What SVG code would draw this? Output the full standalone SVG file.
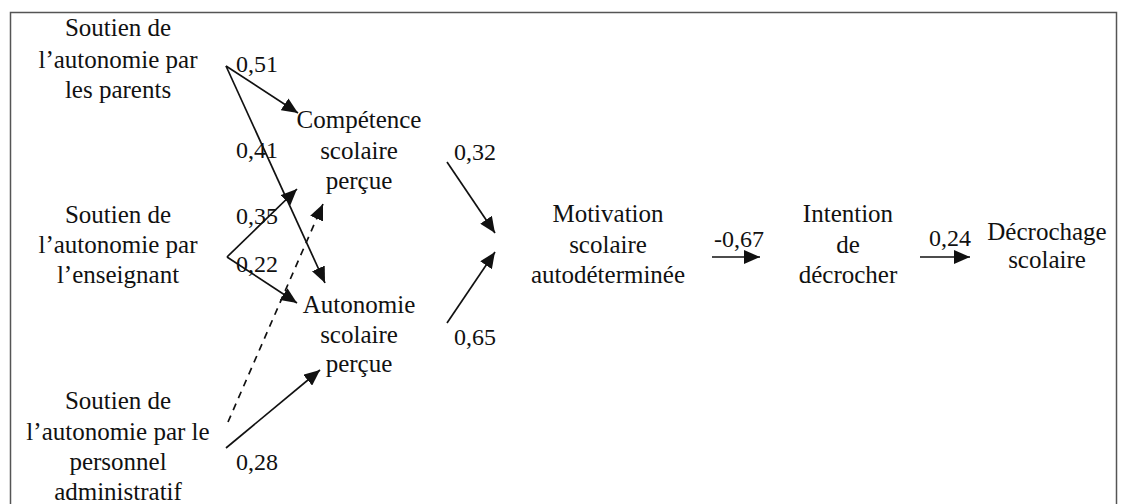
<svg xmlns="http://www.w3.org/2000/svg" width="1127" height="504" viewBox="0 0 1127 504" font-family="'Liberation Serif','DejaVu Serif',serif">
<style>
text{font-family:"Liberation Serif","DejaVu Serif",serif;font-size:25px;fill:#111;text-anchor:middle}
.lbl{font-size:24px;text-anchor:start}
.c{stroke:#111;stroke-width:1.7;fill:none;marker-end:url(#ah)}
.d{stroke-dasharray:7,6}
</style>
<defs>
<marker id="ah" markerUnits="userSpaceOnUse" markerWidth="17" markerHeight="14" refX="16" refY="7" orient="auto">
<path d="M0,0 L16,7 L0,14 z" fill="#111"/>
</marker>
</defs>
<rect x="10.5" y="12.5" width="1106" height="520" fill="#fff" stroke="#555" stroke-width="1.5"/>
<g id="parents"><text><tspan x="118" y="36">Soutien de</tspan><tspan x="118" y="68">l’autonomie par</tspan><tspan x="118" y="98">les parents</tspan></text></g>
<g id="enseignant"><text><tspan x="118" y="223">Soutien de</tspan><tspan x="118" y="253">l’autonomie par</tspan><tspan x="118" y="283">l’enseignant</tspan></text></g>
<g id="personnel"><text><tspan x="118" y="409">Soutien de</tspan><tspan x="118" y="440">l’autonomie par le</tspan><tspan x="118" y="470">personnel</tspan><tspan x="118" y="500">administratif</tspan></text></g>
<g id="competence"><text><tspan x="359" y="128">Compétence</tspan><tspan x="359" y="159">scolaire</tspan><tspan x="359" y="189">perçue</tspan></text></g>
<g id="autonomie"><text><tspan x="359" y="313">Autonomie</tspan><tspan x="359" y="343">scolaire</tspan><tspan x="359" y="372">perçue</tspan></text></g>
<g id="motivation"><text><tspan x="608" y="222">Motivation</tspan><tspan x="608" y="253">scolaire</tspan><tspan x="608" y="283">autodéterminée</tspan></text></g>
<g id="intention"><text><tspan x="848" y="222">Intention</tspan><tspan x="848" y="253">de</tspan><tspan x="848" y="283">décrocher</tspan></text></g>
<g id="decrochage"><text><tspan x="1047" y="240">Décrochage</tspan><tspan x="1047" y="268">scolaire</tspan></text></g>
<g id="connectors">
<line class="c" x1="226" y1="66" x2="298" y2="113"/>
<line class="c" x1="226" y1="66" x2="325" y2="283"/>
<line class="c" x1="227" y1="257" x2="297" y2="189"/>
<line class="c" x1="227" y1="257" x2="297" y2="303"/>
<line class="c d" x1="228" y1="422" x2="323" y2="204"/>
<line class="c" x1="226" y1="448" x2="320" y2="370"/>
<line class="c" x1="447" y1="162" x2="495" y2="233"/>
<line class="c" x1="447" y1="323" x2="495" y2="252"/>
<line class="c" x1="712" y1="257" x2="760" y2="257"/>
<line class="c" x1="920" y1="257" x2="970" y2="257"/>
</g>
<g id="labels">
<text class="lbl" x="236" y="72">0,51</text>
<text class="lbl" x="236" y="158">0,41</text>
<text class="lbl" x="236" y="224">0,35</text>
<text class="lbl" x="236" y="272">0,22</text>
<text class="lbl" x="236" y="470">0,28</text>
<text class="lbl" x="454" y="160">0,32</text>
<text class="lbl" x="454" y="345">0,65</text>
<text class="lbl" x="714" y="247">-0,67</text>
<text class="lbl" x="929" y="246">0,24</text>
</g>
</svg>
